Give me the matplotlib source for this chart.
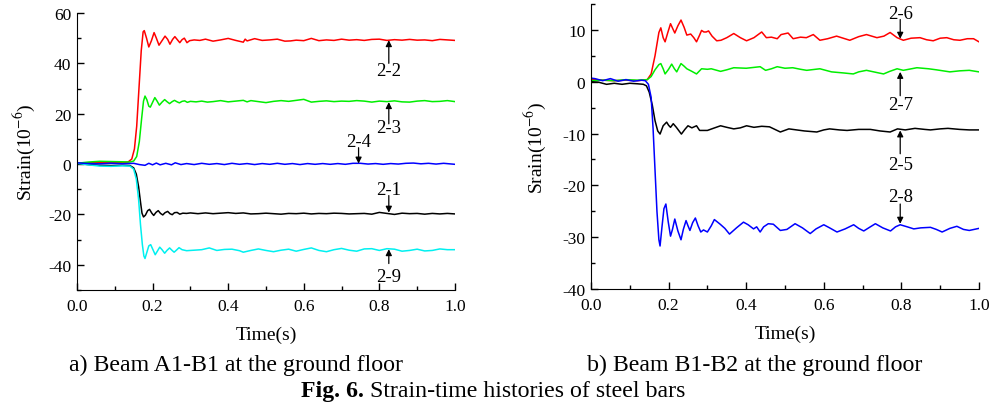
import matplotlib
matplotlib.use("Agg")
import matplotlib.pyplot as plt

plt.rcParams['font.family'] = ['Liberation Serif', 'DejaVu Serif']
plt.rcParams['mathtext.fontset'] = 'stix'
plt.rcParams['axes.unicode_minus'] = False

# ---- panel a) Beam A1-B1 ----
t_22 = [0.00, 0.03, 0.06, 0.09, 0.12, 0.135, 0.145, 0.152, 0.158, 0.164, 0.170, 0.175, 0.178, 0.184, 0.19, 0.197, 0.204, 0.21, 0.217, 0.225, 0.233, 0.24, 0.246, 0.253, 0.259, 0.266, 0.272, 0.278, 0.284, 0.291, 0.298, 0.31, 0.325, 0.34, 0.36, 0.38, 0.40, 0.42, 0.44, 0.445, 0.45, 0.47, 0.49, 0.51, 0.53, 0.55, 0.565, 0.58, 0.60, 0.62, 0.64, 0.66, 0.68, 0.70, 0.72, 0.74, 0.76, 0.78, 0.80, 0.82, 0.84, 0.86, 0.88, 0.90, 0.92, 0.94, 0.96, 0.98, 1.00]
s_22 = [0.3, 0.5, 0.6, 0.5, 0.6, 0.8, 2, 6, 15, 30, 45, 52.5, 53, 50, 46.5, 49, 52.2, 50, 47.2, 49, 50.8, 49.5, 47.6, 49.5, 50.6, 49.3, 48.2, 49.4, 50, 48.2, 49, 49.3, 49.1, 49.6, 48.8, 49.3, 49.9, 49.1, 48.4, 49.6, 48.9, 49.8, 49.1, 49.3, 49.6, 48.8, 48.9, 49.2, 49.0, 49.9, 49.0, 49.3, 49.1, 49.6, 49.2, 49.4, 49.1, 49.5, 49.6, 49.1, 49.4, 49.2, 49.5, 49.2, 49.3, 49.0, 49.5, 49.3, 49.1]

t_23 = [0.00, 0.03, 0.06, 0.09, 0.12, 0.14, 0.15, 0.158, 0.165, 0.171, 0.176, 0.18, 0.185, 0.19, 0.194, 0.2, 0.206, 0.212, 0.218, 0.225, 0.232, 0.238, 0.245, 0.252, 0.258, 0.265, 0.271, 0.278, 0.285, 0.292, 0.30, 0.315, 0.33, 0.345, 0.36, 0.38, 0.40, 0.42, 0.44, 0.45, 0.46, 0.48, 0.50, 0.52, 0.54, 0.56, 0.58, 0.60, 0.62, 0.64, 0.66, 0.68, 0.70, 0.72, 0.74, 0.76, 0.78, 0.80, 0.82, 0.84, 0.86, 0.88, 0.90, 0.92, 0.94, 0.96, 0.98, 1.00]
s_23 = [0.3, 0.8, 1.1, 1.0, 0.9, 0.8, 1.2, 3, 9, 18, 25, 27, 25.5, 23, 22.6, 24.5, 26.4, 25, 23.4, 24.6, 25.6, 24.8, 24, 24.8, 25.3, 24.7, 24.3, 24.9, 25.1, 24.5, 24.9, 24.7, 25.0, 24.6, 24.8, 25.2, 24.7, 25.0, 25.3, 24.7, 25.2, 24.8, 24.4, 24.9, 25.2, 24.9, 25.3, 25.7, 24.6, 24.9, 25.1, 24.8, 25.0, 24.9, 25.2, 25.0, 24.6, 25.0, 24.8, 25.1, 24.7, 24.6, 25.0, 25.2, 24.8, 24.9, 25.2, 24.8]

t_24 = [0.00, 0.03, 0.06, 0.09, 0.12, 0.15, 0.165, 0.18, 0.19, 0.2, 0.21, 0.22, 0.235, 0.25, 0.26, 0.275, 0.29, 0.31, 0.33, 0.35, 0.37, 0.39, 0.41, 0.43, 0.45, 0.47, 0.49, 0.51, 0.53, 0.55, 0.57, 0.59, 0.61, 0.63, 0.65, 0.67, 0.69, 0.71, 0.73, 0.75, 0.77, 0.79, 0.81, 0.83, 0.85, 0.87, 0.89, 0.91, 0.93, 0.95, 0.97, 1.00]
s_24 = [0.5, 0.2, 0.1, 0.3, 0.1, 0.3, -0.2, -0.5, 0.3, -0.3, 0.4, -0.3, 0.3, -0.3, 0.5, -0.2, 0.2, -0.2, 0.3, -0.1, 0.2, -0.2, 0.3, -0.1, 0.2, -0.2, 0.2, -0.1, 0.3, -0.1, 0.2, -0.2, 0.2, -0.1, 0.2, -0.1, 0.2, -0.1, 0.3, 0.3, 0.0, 0.2, -0.1, 0.2, 0.0, 0.3, 0.4, 0.1, 0.3, 0.0, 0.3, -0.1]

t_21 = [0.00, 0.03, 0.06, 0.09, 0.12, 0.14, 0.15, 0.157, 0.163, 0.168, 0.172, 0.176, 0.181, 0.187, 0.192, 0.198, 0.203, 0.209, 0.215, 0.221, 0.227, 0.233, 0.24, 0.246, 0.252, 0.258, 0.265, 0.272, 0.28, 0.29, 0.30, 0.32, 0.34, 0.36, 0.38, 0.40, 0.42, 0.44, 0.46, 0.48, 0.50, 0.52, 0.54, 0.56, 0.58, 0.60, 0.62, 0.64, 0.66, 0.68, 0.70, 0.72, 0.74, 0.76, 0.78, 0.80, 0.82, 0.84, 0.86, 0.88, 0.90, 0.92, 0.94, 0.96, 0.98, 1.00]
s_21 = [0.2, -0.2, -0.5, -0.6, -0.5, -0.6, -1.5, -4, -9, -15, -19.5, -21, -20.3, -18.5, -18, -19.5, -20.4, -19.2, -18.5, -19.6, -20.2, -19.3, -18.8, -19.7, -20.1, -19.3, -19.2, -19.9, -19.5, -19.6, -19.4, -19.7, -19.4, -19.7, -19.5, -19.3, -19.6, -19.4, -19.8, -19.7, -19.5, -19.7, -19.9, -19.6, -19.7, -19.5, -19.8, -19.6, -19.7, -19.5, -19.6, -19.8, -19.7, -19.6, -19.9, -19.2, -19.6, -20.0, -19.5, -19.7, -19.6, -19.9, -19.6, -19.8, -19.6, -19.8]

t_29 = [0.00, 0.03, 0.06, 0.09, 0.12, 0.14, 0.15, 0.157, 0.163, 0.168, 0.173, 0.177, 0.18, 0.185, 0.19, 0.195, 0.201, 0.207, 0.213, 0.219, 0.225, 0.232, 0.238, 0.245, 0.251, 0.257, 0.263, 0.27, 0.278, 0.29, 0.31, 0.33, 0.35, 0.37, 0.39, 0.41, 0.43, 0.44, 0.46, 0.48, 0.50, 0.52, 0.54, 0.56, 0.58, 0.60, 0.62, 0.64, 0.66, 0.68, 0.70, 0.72, 0.74, 0.76, 0.78, 0.80, 0.82, 0.84, 0.86, 0.88, 0.90, 0.92, 0.94, 0.96, 0.98, 1.00]
s_29 = [0.3, -0.3, -0.8, -0.9, -0.7, -0.8, -2, -6, -14, -24, -32, -36.5, -37.5, -35, -32.5, -32, -34, -36, -34.5, -33, -34, -35.4, -34.3, -33.3, -34.2, -35, -34.2, -33.2, -34, -34.4, -34.2, -34.0, -33.3, -34.3, -33.9, -33.8, -34.4, -35.0, -34.3, -33.7, -34.3, -34.8, -34.2, -33.8, -34.6, -33.9, -33.3, -34.3, -34.8, -34.0, -33.5, -34.2, -34.6, -33.7, -33.6, -34.3, -33.6, -33.8, -34.6, -34.3, -33.8, -34.5, -34.3, -33.7, -34.0, -34.0]

# ---- panel b) Beam B1-B2 ----
t_26 = [0.00, 0.03, 0.06, 0.09, 0.12, 0.145, 0.155, 0.165, 0.175, 0.18, 0.186, 0.191, 0.198, 0.205, 0.211, 0.216, 0.224, 0.232, 0.24, 0.247, 0.257, 0.265, 0.272, 0.28, 0.285, 0.291, 0.297, 0.303, 0.312, 0.324, 0.335, 0.35, 0.368, 0.385, 0.401, 0.42, 0.44, 0.452, 0.465, 0.48, 0.49, 0.508, 0.521, 0.54, 0.555, 0.573, 0.59, 0.61, 0.633, 0.65, 0.667, 0.69, 0.71, 0.737, 0.755, 0.771, 0.789, 0.805, 0.825, 0.848, 0.865, 0.882, 0.9, 0.917, 0.935, 0.951, 0.97, 0.986, 1.0]
s_26 = [0.5, 0.3, 0.2, 0.3, 0.2, 0.4, 1.5, 5, 9.5, 10.4, 8.5, 7.7, 9.5, 11.2, 10.2, 9.4, 10.8, 11.9, 10.5, 9.0, 9.2, 8.5, 7.7, 9, 9.9, 9.6, 9.6, 9.8, 8.8, 7.9, 8.0, 8.5, 9.3, 8.5, 7.9, 8.5, 9.6, 8.5, 8.6, 8.3, 9.1, 9.4, 8.3, 8.6, 8.5, 9.1, 8.0, 8.3, 8.8, 8.4, 8.0, 8.7, 9.1, 8.5, 8.8, 9.5, 8.5, 8.0, 8.4, 8.5, 8.1, 7.9, 8.4, 8.5, 8.1, 8.0, 8.3, 8.3, 7.7]

t_27 = [0.00, 0.03, 0.06, 0.09, 0.12, 0.145, 0.155, 0.165, 0.175, 0.18, 0.186, 0.191, 0.2, 0.208, 0.215, 0.221, 0.227, 0.232, 0.24, 0.247, 0.26, 0.272, 0.285, 0.3, 0.31, 0.334, 0.35, 0.368, 0.4, 0.436, 0.45, 0.465, 0.48, 0.5, 0.52, 0.54, 0.556, 0.59, 0.62, 0.65, 0.676, 0.69, 0.71, 0.735, 0.754, 0.77, 0.789, 0.805, 0.84, 0.87, 0.89, 0.925, 0.95, 0.975, 1.0]
s_27 = [0.2, 0.3, 0.2, 0.4, 0.3, 0.4, 1.0, 2.3, 3.3, 3.5, 2.5, 1.5, 2.4, 3.4, 2.5, 1.9, 2.8, 3.5, 3.0, 2.5, 2.0, 1.5, 2.5, 2.4, 2.5, 2.0, 2.3, 2.7, 2.6, 2.9, 2.2, 2.5, 2.9, 2.6, 2.7, 2.4, 2.2, 2.5, 1.9, 1.7, 1.5, 1.9, 2.2, 1.8, 1.5, 2.0, 2.5, 2.2, 2.7, 2.5, 2.3, 1.9, 2.1, 2.2, 1.9]

t_25 = [0.00, 0.02, 0.04, 0.06, 0.08, 0.10, 0.12, 0.135, 0.143, 0.15, 0.158, 0.165, 0.172, 0.178, 0.186, 0.195, 0.2, 0.205, 0.212, 0.22, 0.233, 0.242, 0.25, 0.26, 0.272, 0.28, 0.3, 0.315, 0.334, 0.35, 0.368, 0.385, 0.401, 0.42, 0.44, 0.46, 0.488, 0.51, 0.53, 0.55, 0.582, 0.6, 0.615, 0.64, 0.66, 0.69, 0.72, 0.745, 0.771, 0.79, 0.81, 0.835, 0.86, 0.875, 0.9, 0.92, 0.95, 0.975, 1.0]
s_25 = [0.0, -0.1, -0.5, -0.3, -0.5, -0.3, -0.4, -0.5, -0.8, -2, -4.5, -7.5, -9.5, -10.1, -8.5, -7.8, -8.4, -8.8, -8.1, -8.8, -10.1, -9.2, -8.5, -8.9, -8.5, -9.4, -9.4, -9.0, -8.5, -8.8, -9.1, -8.9, -8.5, -8.8, -8.6, -8.7, -9.7, -9.1, -9.3, -9.5, -9.7, -9.3, -9.1, -9.3, -9.4, -9.2, -9.2, -9.5, -9.7, -9.1, -9.3, -9.0, -9.2, -9.3, -9.1, -9.0, -9.2, -9.3, -9.3]

t_28 = [0.00, 0.01, 0.03, 0.05, 0.07, 0.09, 0.11, 0.13, 0.14, 0.148, 0.155, 0.16, 0.165, 0.17, 0.175, 0.178, 0.183, 0.188, 0.193, 0.199, 0.205, 0.21, 0.216, 0.224, 0.232, 0.238, 0.245, 0.25, 0.255, 0.262, 0.269, 0.276, 0.283, 0.29, 0.3, 0.31, 0.318, 0.333, 0.345, 0.357, 0.375, 0.393, 0.405, 0.419, 0.427, 0.436, 0.445, 0.457, 0.47, 0.488, 0.505, 0.526, 0.545, 0.565, 0.58, 0.6, 0.615, 0.634, 0.655, 0.677, 0.69, 0.703, 0.72, 0.733, 0.752, 0.772, 0.785, 0.797, 0.815, 0.832, 0.85, 0.875, 0.89, 0.905, 0.925, 0.943, 0.96, 0.975, 1.0]
s_28 = [0.7, 0.6, 0.2, 0.6, 0.1, 0.4, 0.1, 0.3, 0.2, -0.5, -3, -9, -17, -25, -30.5, -31.7, -28, -24.5, -23.6, -27, -29.8, -28.5, -26.5, -28.8, -30.5, -28.5, -26.8, -27.8, -28.7, -27.2, -26.3, -27.8, -29.0, -28.6, -29.0, -27.8, -26.6, -27.5, -28.3, -29.4, -28.2, -27.1, -27.6, -28.4, -28.0, -29.0, -28.0, -27.4, -27.5, -28.7, -28.5, -27.4, -28.2, -29.3, -28.4, -27.6, -28.2, -29.0, -28.4, -27.6, -28.3, -28.8, -28.0, -27.4, -28.2, -28.8, -28.0, -27.6, -28.0, -28.4, -28.2, -28.1, -28.5, -29.0, -28.3, -27.9, -28.5, -28.7, -28.3]

# labels: (text, x, arrow head y, arrow tail y, text y)
notes_a = [("2-2", 0.825, 49.2, 40, 37),
           ("2-3", 0.825, 24.6, 16, 14.5),
           ("2-4", 0.745, 0.2, 6.5, 8.8),
           ("2-1", 0.825, -19.3, -12.5, -10),
           ("2-9", 0.825, -33.8, -39.5, -44.5)]
notes_b = [("2-6", 0.797, 8.3, 12.0, 13.2),
           ("2-7", 0.797, 1.9, -2.7, -4.4),
           ("2-5", 0.797, -9.4, -13.9, -15.9),
           ("2-8", 0.797, -27.4, -23.6, -22.2)]

fig = plt.figure(figsize=(10.01, 4.06), dpi=100)
ax1 = fig.add_axes([0.0769, 0.2833, 0.3776, 0.6823])
ax2 = fig.add_axes([0.5904, 0.2857, 0.3876, 0.7020])

lw = 1.1
ax1.plot(t_22, s_22, color='#ff0000', lw=lw)
ax1.plot(t_23, s_23, color='#00ee00', lw=lw)
ax1.plot(t_21, s_21, color='black', lw=lw)
ax1.plot(t_29, s_29, color='#00f0f0', lw=lw)
ax1.plot(t_24, s_24, color='#0000ff', lw=lw)

ax2.plot(t_26, s_26, color='#ff0000', lw=lw)
ax2.plot(t_27, s_27, color='#00ee00', lw=lw)
ax2.plot(t_25, s_25, color='black', lw=lw)
ax2.plot(t_28, s_28, color='#0000ff', lw=lw)


def annotate_all(ax, notes):
    for txt, x, yh, yt, ytxt in notes:
        ax.annotate('', xy=(x, yh), xytext=(x, yt),
                    arrowprops=dict(arrowstyle='-|>', color='black', lw=0.9,
                                    mutation_scale=9, shrinkA=0, shrinkB=0))
        ax.text(x, ytxt, txt, ha='center', va='center', fontsize=13.5)


annotate_all(ax1, notes_a)
annotate_all(ax2, notes_b)

ax1.set_xlim(0, 1.0)
ax1.set_ylim(-50, 60)
ax1.set_yticks([-40, -20, 0, 20, 40, 60])
ax1.set_yticks([-50, -30, -10, 10, 30, 50], minor=True)
ax1.set_ylabel('Strain(10$^{-6}$)', fontsize=14, labelpad=8)

ax2.set_xlim(0, 1.0)
ax2.set_ylim(-40, 15)
ax2.set_yticks([-40, -30, -20, -10, 0, 10])
ax2.set_yticks([-35, -25, -15, -5, 5, 15], minor=True)
ax2.set_ylabel('Srain(10$^{-6}$)', fontsize=14, labelpad=10)

for ax in (ax1, ax2):
    ax.set_xticks([0.0, 0.2, 0.4, 0.6, 0.8, 1.0])
    ax.set_xticks([0.1, 0.3, 0.5, 0.7, 0.9], minor=True)
    ax.set_xticklabels(['0.0', '0.2', '0.4', '0.6', '0.8', '1.0'])
    ax.set_xlabel('Time(s)', fontsize=14, labelpad=8)
    ax.spines['top'].set_visible(False)
    ax.spines['right'].set_visible(False)
    ax.tick_params(which='both', direction='in', labelsize=12.5, width=1)
    ax.tick_params(which='major', length=5, pad=6)
    ax.tick_params(which='minor', length=3)
    ax.tick_params(axis='y', which='major', pad=4)

fig.text(0.236, 0.10, 'a) Beam A1-B1 at the ground floor', ha='center', va='center', fontsize=17.2)
fig.text(0.754, 0.10, 'b) Beam B1-B2 at the ground floor', ha='center', va='center', fontsize=17.2)
fig.text(0.364, 0.036, 'Fig. 6.', ha='right', va='center', fontsize=17.2, fontweight='bold')
fig.text(0.370, 0.036, 'Strain-time histories of steel bars', ha='left', va='center', fontsize=17.2)

fig.savefig('out.png', dpi=100)
